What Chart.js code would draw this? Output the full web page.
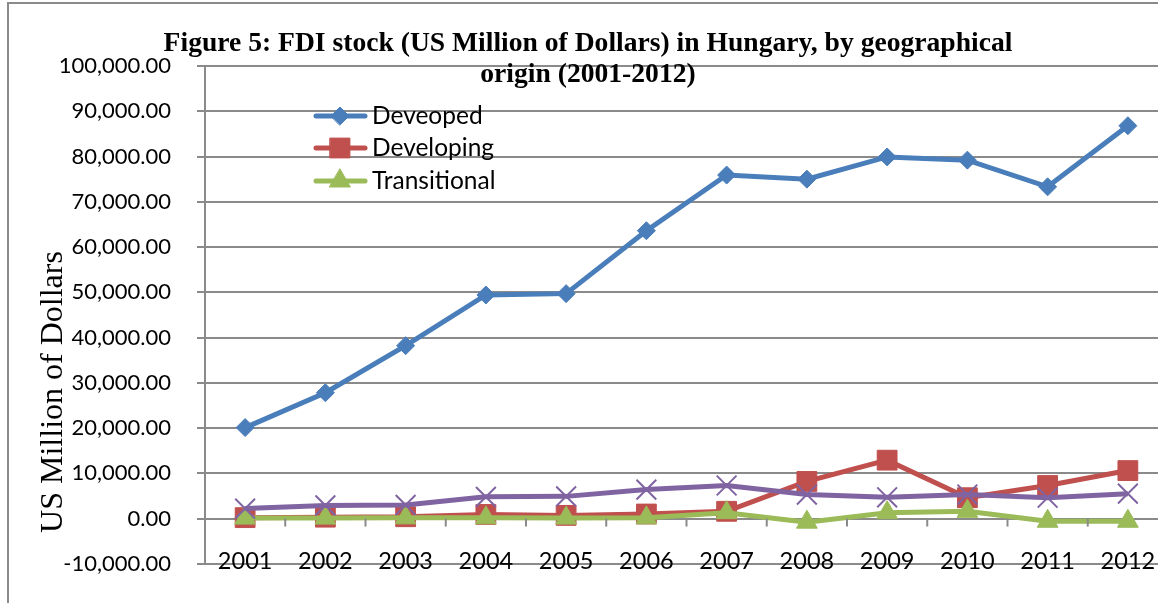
<!DOCTYPE html>
<html>
<head>
<meta charset="utf-8">
<script src="https://cdn.jsdelivr.net/npm/chart.js@4.4.0/dist/chart.umd.min.js"></script>
<style>
  html, body { margin: 0; padding: 0; background: #fff; overflow: hidden; }
  #wrap { position: relative; width: 1170px; height: 603px; }
  #frame { position: absolute; left: 7px; top: 2px; right: 0; bottom: 0;
           border-left: 2px solid #8a8a8a; border-top: 2px solid #8a8a8a; pointer-events: none; }
</style>
</head>
<body>
<div id="wrap">
  <canvas id="chart" width="1170" height="603"></canvas>
  <div id="frame"></div>
</div>
<script>
const years = ["2001", "2002", "2003", "2004", "2005", "2006", "2007", "2008", "2009", "2010", "2011", "2012"];
const developed = [20100, 27800, 38200, 49400, 49700, 63600, 75900, 75000, 79900, 79200, 73300, 86800];
const developing = [200, 300, 400, 900, 700, 1000, 1600, 8200, 12900, 4600, 7300, 10600];
const transitional = [100, 100, 150, 150, 100, 150, 1300, -800, 1300, 1600, -600, -600];
const other = [2200, 2900, 3000, 4800, 4900, 6400, 7300, 5300, 4700, 5300, 4600, 5500];
const legendNames = ["Deveoped", "Developing", "Transitional"];
const titleLines = ["Figure 5: FDI stock (US Million of Dollars) in Hungary, by geographical", "origin (2001-2012)"];
const yTitle = "US Million of Dollars";

const BLUE = "#4a7ebb", RED = "#c0504d", GREEN = "#9bbb59", PURPLE = "#8064a2";
const GRID = "#8a8a8a";
const TICK_FONT = { family: "Lato", size: 22 };

function series(label, data, color, style, radius, order) {
  return {
    label, data,
    borderColor: color, backgroundColor: color,
    pointBackgroundColor: color, pointBorderColor: color,
    borderWidth: 5, pointStyle: style, pointRadius: radius,
    pointBorderWidth: style === "crossRot" ? 2 : 1,
    tension: 0, order
  };
}

// title, y caption, category labels/ticks on the x scale, legend inside the plot
const decor = {
  id: "decor",
  afterDraw(c) {
    const ctx = c.ctx;
    const xs = c.scales.x, ys = c.scales.y;
    ctx.save();
    ctx.fillStyle = "#000";
    ctx.textAlign = "center";
    ctx.textBaseline = "middle";
    ctx.font = "bold 27.6px 'Liberation Serif'";
    ctx.fillText(titleLines[0], 588, 44);
    ctx.fillText(titleLines[1], 588, 75);

    ctx.save();
    ctx.translate(54, 392);
    ctx.rotate(-Math.PI / 2);
    ctx.font = "32px 'Liberation Serif'";
    ctx.fillText(yTitle, 0, 0);
    ctx.restore();

    // category labels just above the plot bottom, like the original
    ctx.font = "23.5px Lato";
    for (let i = 0; i < years.length; i++) {
      ctx.fillText(xs.getLabelForValue(i), xs.getPixelForValue(i), ys.bottom - 2);
    }

    // small ticks hanging below the zero line between categories
    const y0 = ys.getPixelForValue(0);
    const half = (xs.getPixelForValue(1) - xs.getPixelForValue(0)) / 2;
    ctx.strokeStyle = GRID;
    ctx.lineWidth = 2;
    for (let i = 0; i <= years.length; i++) {
      const x = xs.getPixelForValue(i) - half;
      ctx.beginPath();
      ctx.moveTo(x, y0);
      ctx.lineTo(x, y0 + 8);
      ctx.stroke();
    }

    // legend
    const rows = [116, 148, 181];
    ctx.textAlign = "left";
    ctx.font = "24.5px Lato";
    for (let i = 0; i < 3; i++) {
      const ds = c.data.datasets[i];
      ctx.strokeStyle = ds.borderColor;
      ctx.lineWidth = 5;
      ctx.lineCap = "round";
      ctx.beginPath();
      ctx.moveTo(316, rows[i]);
      ctx.lineTo(365, rows[i]);
      ctx.stroke();
      ctx.fillStyle = ds.borderColor;
      ctx.lineWidth = 1;
      Chart.helpers.drawPoint(ctx, { pointStyle: ds.pointStyle, radius: ds.pointRadius, rotation: 0, borderWidth: 1 }, 340, rows[i]);
      ctx.fillStyle = "#000";
      ctx.fillText(legendNames[i], 372, rows[i]);
    }
    ctx.restore();
  }
};

new Chart(document.getElementById("chart"), {
  type: "line",
  data: {
    labels: years,
    datasets: [
      series(legendNames[0], developed, BLUE, "rectRot", 9, 3),
      series(legendNames[1], developing, RED, "rect", 14, 2),
      series(legendNames[2], transitional, GREEN, "triangle", 12, 1),
      series("", other, PURPLE, "crossRot", 14, 0)
    ]
  },
  options: {
    responsive: false,
    animation: false,
    layout: { autoPadding: false, padding: { top: 66, right: 2, bottom: 0, left: 0 } },
    plugins: { legend: { display: false }, tooltip: { enabled: false }, title: { display: false } },
    scales: {
      x: {
        offset: true,
        grid: { display: false, drawTicks: false },
        border: { display: true, color: GRID, width: 2 },
        ticks: { display: false },
        afterFit(s) { s.height = 39; }
      },
      y: {
        min: -10000, max: 100000,
        grid: { color: GRID, lineWidth: 2, tickLength: 8 },
        border: { display: true, color: GRID, width: 2 },
        ticks: {
          stepSize: 10000, font: TICK_FONT, color: "#000", padding: 26,
          callback: (v) => v.toLocaleString("en-US", { minimumFractionDigits: 2, maximumFractionDigits: 2 })
        },
        afterFit(s) { s.width = 205; }
      }
    }
  },
  plugins: [decor]
});
</script>
</body>
</html>
